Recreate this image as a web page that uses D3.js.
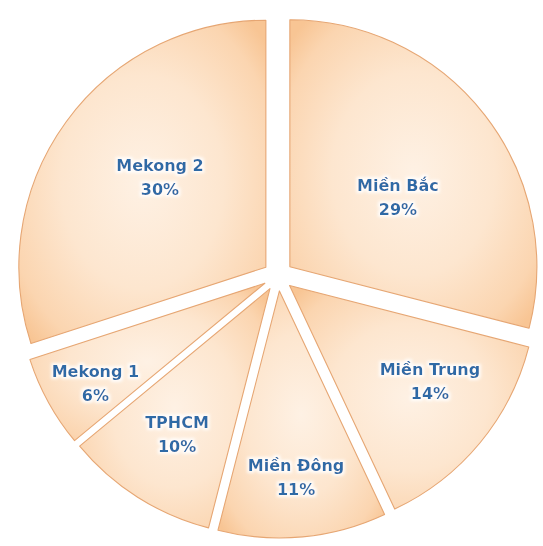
<!DOCTYPE html>
<html>
<head>
<meta charset="utf-8">
<script src="https://cdn.jsdelivr.net/npm/d3@7"></script>
<style>
  html, body { margin: 0; padding: 0; background: #ffffff; }
  svg { display: block; }
</style>
</head>
<body>
<div id="chart"></div>
<script>
// ---- data ----
const categories = ["Miền Bắc", "Miền Trung", "Miền Đông", "TPHCM", "Mekong 1", "Mekong 2"];
const values = [29, 14, 11, 10, 6, 30];
const valueLabels = ["29%", "14%", "11%", "10%", "6%", "30%"];

// ---- layout ----
const W = 543, H = 546;
const cx = 278, cy = 276;
const R = 247;
const explode = 15;
// label placement (best-fit style): distance from slice apex as fraction of radius, and angle in degrees
const labelFrac = [0.52, 0.688, 0.758, 0.702, 0.797, 0.562];
const labelAngle = [57.3, 124.3, 174.9, 212.4, 239.4, 310.3];

const svg = d3.select("#chart").append("svg")
  .attr("width", W).attr("height", H);

const defs = svg.append("defs");
const grad = defs.append("radialGradient")
  .attr("id", "sliceGrad")
  .attr("cx", "50%").attr("cy", "50%").attr("r", "66%");
grad.append("stop").attr("offset", "0%").attr("stop-color", "#fef1e4");
grad.append("stop").attr("offset", "50%").attr("stop-color", "#fde6cf");
grad.append("stop").attr("offset", "85%").attr("stop-color", "#fbd5b0");
grad.append("stop").attr("offset", "100%").attr("stop-color", "#f8c594");

const glow = defs.append("filter").attr("id", "glow")
  .attr("x", "-20%").attr("y", "-40%").attr("width", "140%").attr("height", "180%");
glow.append("feMorphology").attr("in", "SourceAlpha").attr("operator", "dilate").attr("radius", 1.5).attr("result", "d");
glow.append("feGaussianBlur").attr("in", "d").attr("stdDeviation", 1.5).attr("result", "b");
glow.append("feFlood").attr("flood-color", "#ffffff").attr("flood-opacity", 0.9);
glow.append("feComposite").attr("in2", "b").attr("operator", "in").attr("result", "g");
const m = glow.append("feMerge");
m.append("feMergeNode").attr("in", "g");
m.append("feMergeNode").attr("in", "SourceGraphic");

const pie = d3.pie().sort(null).value(d => d).startAngle(0).endAngle(2 * Math.PI);
const arcs = pie(values);
const arc = d3.arc().innerRadius(0).outerRadius(R);

const g = svg.append("g").attr("transform", `translate(${cx},${cy})`);

const slices = g.selectAll("g.slice").data(arcs).join("g")
  .attr("class", "slice")
  .attr("transform", d => {
    const a = (d.startAngle + d.endAngle) / 2;
    return `translate(${Math.sin(a) * explode},${-Math.cos(a) * explode})`;
  });

slices.append("path")
  .attr("d", arc)
  .attr("fill", "url(#sliceGrad)")
  .attr("stroke", "#e6a673")
  .attr("stroke-width", 1.1)
  .attr("stroke-linejoin", "round");

const labels = slices.append("text")
  .attr("text-anchor", "middle")
  .attr("font-family", "DejaVu Sans, Verdana, sans-serif")
  .attr("font-weight", "bold")
  .attr("font-size", 16)
  .attr("fill", "#2d6aa6")
  .attr("filter", "url(#glow)")
  .attr("transform", (d, i) => {
    const a = labelAngle[i] * Math.PI / 180;
    const r = R * labelFrac[i];
    return `translate(${Math.sin(a) * r},${-Math.cos(a) * r})`;
  });

labels.append("tspan").attr("x", 0).attr("dy", "-0.42em").text((d, i) => categories[i]);
labels.append("tspan").attr("x", 0).attr("dy", "1.5em").text((d, i) => valueLabels[i]);
</script>
</body>
</html>
